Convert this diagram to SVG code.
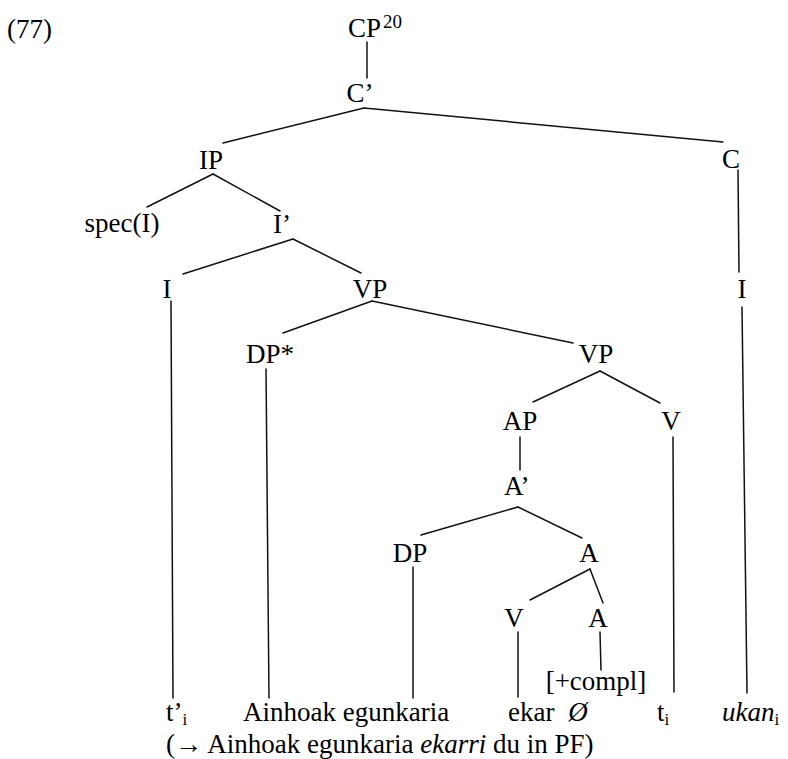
<svg xmlns="http://www.w3.org/2000/svg" width="788" height="759" viewBox="0 0 788 759">
<style>
text { font-family: "Liberation Serif", "Times New Roman", serif; font-size: 27px; fill: #000; }
.n { text-anchor: middle; }
.sub { font-size: 17px; }
.sup { font-size: 19px; }
.it { font-style: italic; }
#connectors line { stroke: #111; stroke-width: 1.5; stroke-linecap: round; fill: none; }
</style>
<rect width="788" height="759" fill="#ffffff"/>

<g id="label-77"><text x="7" y="38">(77)</text></g>

<g id="connectors">
  <line x1="367" y1="42" x2="367" y2="78"/>
  <line x1="364" y1="108" x2="223" y2="143"/>
  <line x1="364" y1="108" x2="723" y2="142"/>
  <line x1="738" y1="170" x2="739" y2="272"/>
  <line x1="213" y1="174" x2="147" y2="207"/>
  <line x1="213" y1="174" x2="280" y2="211"/>
  <line x1="293" y1="239" x2="183" y2="274"/>
  <line x1="293" y1="239" x2="361" y2="273"/>
  <line x1="171" y1="301" x2="173" y2="698"/>
  <line x1="372" y1="301" x2="283" y2="333"/>
  <line x1="372" y1="301" x2="573" y2="343"/>
  <line x1="266" y1="369" x2="269" y2="698"/>
  <line x1="600" y1="371" x2="533" y2="402"/>
  <line x1="600" y1="371" x2="660" y2="403"/>
  <line x1="520" y1="437" x2="520" y2="470"/>
  <line x1="673" y1="437" x2="674" y2="692"/>
  <line x1="518" y1="507" x2="421" y2="535"/>
  <line x1="518" y1="507" x2="582" y2="538"/>
  <line x1="413" y1="567" x2="413" y2="698"/>
  <line x1="590" y1="569" x2="530" y2="600"/>
  <line x1="590" y1="569" x2="603" y2="603"/>
  <line x1="518" y1="632" x2="518" y2="697"/>
  <line x1="600" y1="632" x2="601" y2="670"/>
  <line x1="742" y1="307" x2="747" y2="693"/>
</g>

<g id="node-CP"><text x="348" y="37">CP</text><text class="sup" x="383" y="28">20</text></g>
<g id="node-Cbar"><text class="n" x="360" y="102">C’</text></g>
<g id="node-IP"><text class="n" x="211" y="169">IP</text></g>
<g id="node-C"><text class="n" x="731" y="168">C</text></g>
<g id="node-specI"><text class="n" x="122" y="232">spec(I)</text></g>
<g id="node-Ibar"><text class="n" x="282" y="233">I’</text></g>
<g id="node-I1"><text class="n" x="167" y="298">I</text></g>
<g id="node-VP1"><text class="n" x="370" y="298">VP</text></g>
<g id="node-I2"><text class="n" x="742" y="298">I</text></g>
<g id="node-DPstar"><text x="246" y="363">DP*</text></g>
<g id="node-VP2"><text class="n" x="596" y="363">VP</text></g>
<g id="node-AP"><text class="n" x="520" y="430">AP</text></g>
<g id="node-V1"><text class="n" x="671" y="430">V</text></g>
<g id="node-Abar"><text x="504" y="495">A’</text></g>
<g id="node-DP"><text class="n" x="410" y="562">DP</text></g>
<g id="node-A1"><text class="n" x="589" y="562">A</text></g>
<g id="node-V2"><text class="n" x="514" y="627">V</text></g>
<g id="node-A2"><text class="n" x="598" y="627">A</text></g>
<g id="node-compl"><text class="n" x="596" y="690">[+compl]</text></g>

<g id="leaf-ti1"><text x="166" y="721">t’<tspan class="sub" dy="4">i</tspan></text></g>
<g id="leaf-ainhoak"><text x="243" y="721">Ainhoak egunkaria</text></g>
<g id="leaf-ekar"><text x="508" y="721">ekar</text></g>
<g id="leaf-null"><text class="n it" x="578" y="721">Ø</text></g>
<g id="leaf-ti2"><text x="657" y="721">t<tspan class="sub" dy="4">i</tspan></text></g>
<g id="leaf-ukan"><text x="722" y="721"><tspan class="it">ukan</tspan><tspan class="sub" dy="4">i</tspan></text></g>

<g id="gloss"><text x="166" y="753">(→ Ainhoak egunkaria <tspan class="it">ekarri</tspan> du in PF)</text></g>
</svg>
